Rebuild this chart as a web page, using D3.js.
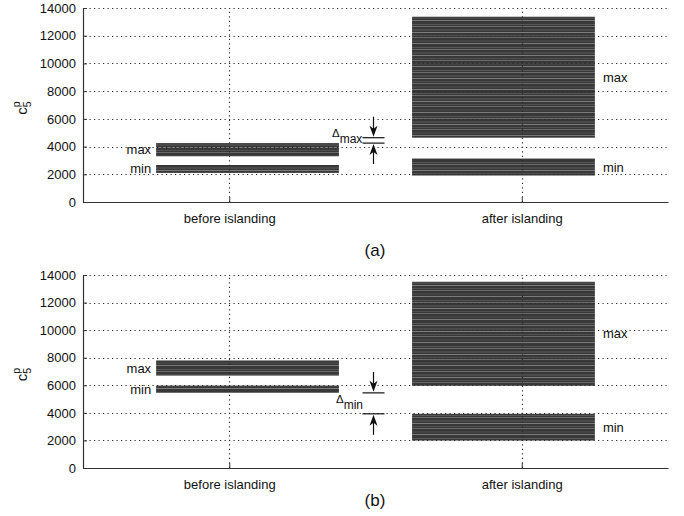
<!DOCTYPE html>
<html>
<head>
<meta charset="utf-8">
<script src="https://cdn.jsdelivr.net/npm/d3@7"></script>
<style>
  html, body { margin: 0; padding: 0; background: #fff; }
  svg text { font-family: "Liberation Sans", Arial, Helvetica, sans-serif; fill: #111; }
</style>
</head>
<body>
<svg id="chart" width="684" height="516"></svg>
<script>
// Categories and their positions on the x axis
const categories = ["before islanding", "after islanding"];
const categoryPos = [1, 2];

// Horizontal extent of each band (x units), per category
const bandX = [[0.75, 1.375], [1.625, 2.25]];

// Y axis ticks
const yTicks = [0, 2000, 4000, 6000, 8000, 10000, 12000, 14000];

// Panel (a): c5p ranges [low, high] for the min and max bands
const aMinBefore = [2100, 2670];
const aMaxBefore = [3300, 4250];
const aMinAfter  = [1900, 3150];
const aMaxAfter  = [4640, 13370];

// Panel (b)
const bMinBefore = [5450, 5980];
const bMaxBefore = [6700, 7800];
const bMinAfter  = [1980, 3930];
const bMaxAfter  = [5960, 13510];

const svg = d3.select("#chart");
const defs = svg.append("defs");

// Striped fill for the bands: dark grey with irregular lighter horizontal lines
const pat = defs.append("pattern")
  .attr("id", "stripes")
  .attr("patternUnits", "userSpaceOnUse")
  .attr("width", 8).attr("height", 23);
pat.append("rect").attr("width", 8).attr("height", 23).attr("fill", "#383838");
[[1, "#575757", 1], [3, "#7a7a7a", 0.8], [6, "#4a4a4a", 2], [9, "#9a9a9a", 0.7],
 [12, "#505050", 1], [14, "#6a6a6a", 1], [17, "#444", 2], [20, "#8a8a8a", 0.8]]
  .forEach(([y, c, h]) => pat.append("rect").attr("x", 0).attr("y", y)
    .attr("width", 8).attr("height", h).attr("fill", c));

function panel(cfg) {
  const x = d3.scaleLinear().domain([0.5, 2.5]).range([83, 668]);
  const y = d3.scaleLinear().domain([0, 14000]).range([cfg.bottom, cfg.top]);
  const g = svg.append("g");

  // bands
  const bands = [
    { cat: 0, r: cfg.minBefore }, { cat: 0, r: cfg.maxBefore },
    { cat: 1, r: cfg.minAfter },  { cat: 1, r: cfg.maxAfter }
  ];
  g.selectAll("rect.band").data(bands).enter().append("rect")
    .attr("class", "band")
    .attr("x", d => x(bandX[d.cat][0]))
    .attr("width", d => x(bandX[d.cat][1]) - x(bandX[d.cat][0]))
    .attr("y", d => y(d.r[1]))
    .attr("height", d => y(d.r[0]) - y(d.r[1]))
    .attr("fill", "url(#stripes)");

  // dotted grid drawn over the bands
  const grid = g.append("g").attr("stroke", "#2a2a2a").attr("stroke-width", 1.1)
    .attr("stroke-dasharray", "1.2,3.3");
  yTicks.filter(t => t > 0).forEach(t => grid.append("line")
    .attr("x1", x(0.5) + 2).attr("x2", x(2.5))
    .attr("y1", Math.round(y(t)) + 0.5).attr("y2", Math.round(y(t)) + 0.5));
  categoryPos.forEach(p => grid.append("line")
    .attr("x1", Math.round(x(p)) + 0.5).attr("x2", Math.round(x(p)) + 0.5)
    .attr("y1", y(0)).attr("y2", y(14000)));

  // axes
  const yAxis = d3.axisLeft(y).tickValues(yTicks).tickFormat(d3.format("d"))
    .tickSizeInner(-4).tickSizeOuter(0).tickPadding(7);
  const ya = g.append("g").attr("transform", `translate(${x(0.5)},0)`).call(yAxis);
  const xAxis = d3.axisBottom(x).tickValues(categoryPos).tickFormat((d, i) => categories[i])
    .tickSizeInner(-5).tickSizeOuter(0).tickPadding(12);
  const xa = g.append("g").attr("transform", `translate(0,${y(0)})`).call(xAxis);
  [ya, xa].forEach(a => {
    a.select(".domain").attr("stroke", "#333").attr("stroke-width", 1.2);
    a.selectAll(".tick line").attr("stroke", "#333");
    a.selectAll(".tick text").attr("font-size", "13px").attr("fill", "#111")
      .attr("font-family", "Liberation Sans, Arial, sans-serif");
  });

  // y label: c with superscript p and subscript 5
  const yl = g.append("text")
    .attr("transform", `translate(27,${(y(0) + y(14000)) / 2 + 3}) rotate(-90)`)
    .attr("text-anchor", "middle").attr("font-size", "15px");
  yl.append("tspan").text("c");
  yl.append("tspan").attr("font-size", "10.5px").attr("dy", -7).text("p");
  yl.append("tspan").attr("font-size", "10.5px").attr("dx", -6).attr("dy", 11).text("5");

  // min / max labels
  const lab = (t, xx, yy, anchor) => g.append("text").attr("x", xx).attr("y", yy)
    .attr("text-anchor", anchor).attr("font-size", "13px").text(t);
  lab("max", x(bandX[0][0]) - 5, y(d3.mean(cfg.maxBefore)) + 4.5, "end");
  lab("min", x(bandX[0][0]) - 5, y(d3.mean(cfg.minBefore)) + 4.5, "end");
  lab("max", x(bandX[1][1]) + 8, y(d3.mean(cfg.maxAfter)) + 4.5, "start");
  lab("min", x(bandX[1][1]) + 8, y(d3.mean(cfg.minAfter)) + 4.5, "start");

  // gap marker between the two edges
  const ax = x(1.5) - 2;
  const yUp = y(cfg.gap[0]), yLo = y(cfg.gap[1]);
  const mk = g.append("g").attr("stroke", "#111").attr("stroke-width", 1.2);
  [yUp, yLo].forEach(v => mk.append("line")
    .attr("x1", ax - 11).attr("x2", ax + 11).attr("y1", v).attr("y2", v));
  const arrow = (from, to) => {
    const dir = Math.sign(to - from);
    g.append("line").attr("x1", ax).attr("x2", ax).attr("y1", from).attr("y2", to - dir * 6)
      .attr("stroke", "#111").attr("stroke-width", 1.2);
    g.append("path")
      .attr("d", `M${ax},${to} L${ax - 4},${to - dir * 11} L${ax},${to - dir * 8} L${ax + 4},${to - dir * 11} Z`)
      .attr("fill", "#111");
  };
  arrow(yUp - 21, yUp - 1);
  arrow(yLo + 21, yLo + 1);

  const dl = g.append("text").attr("x", cfg.deltaX).attr("y", cfg.deltaY).attr("font-size", "11.5px");
  dl.append("tspan").text("Δ");
  dl.append("tspan").attr("dy", 6).attr("font-size", "12px").text(cfg.deltaSub);

  // caption
  g.append("text").attr("x", 375).attr("y", cfg.captionY).attr("text-anchor", "middle")
    .attr("font-size", "17px").text(cfg.caption);
}

panel({
  top: 8, bottom: 202,
  minBefore: aMinBefore, maxBefore: aMaxBefore, minAfter: aMinAfter, maxAfter: aMaxAfter,
  gap: [aMaxAfter[0], aMaxBefore[1]],
  deltaSub: "max", deltaX: 332, deltaY: 137,
  caption: "(a)", captionY: 256
});
panel({
  top: 275, bottom: 468,
  minBefore: bMinBefore, maxBefore: bMaxBefore, minAfter: bMinAfter, maxAfter: bMaxAfter,
  gap: [bMinBefore[0], bMinAfter[1]],
  deltaSub: "min", deltaX: 336, deltaY: 403,
  caption: "(b)", captionY: 506
});
</script>
</body>
</html>
